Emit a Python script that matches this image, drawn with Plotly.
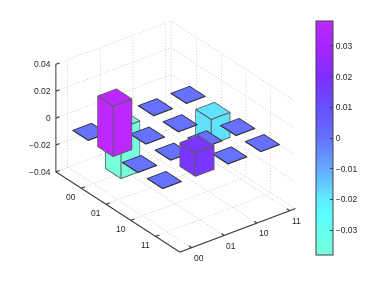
import plotly.graph_objects as go

x_labels = ["00", "01", "10", "11"]
y_labels = ["00", "01", "10", "11"]
# rows: x index, columns: y index
values = [
    [0.0, -0.0375, 0.0, 0.0],
    [0.0375, 0.0, 0.0, -0.0185],
    [0.0, 0.0, 0.0, 0.0],
    [0.0, 0.0175, 0.0, 0.0],
]
z_ticks = [-0.04, -0.02, 0, 0.02, 0.04]
z_tick_text = ["\u22120.04", "\u22120.02", "0", "0.02", "0.04"]
cbar_ticks = [-0.03, -0.02, -0.01, 0, 0.01, 0.02, 0.03]
cbar_text = ["\u22120.03", "\u22120.02", "\u22120.01", "0", "0.01", "0.02", "0.03"]
c_lim = 0.0381
colorscale = [
    [0.0, "rgb(120,255,220)"],
    [0.106, "rgb(100,255,240)"],
    [0.172, "rgb(90,255,255)"],
    [0.2375, "rgb(95,235,255)"],
    [0.369, "rgb(100,170,255)"],
    [0.5, "rgb(102,112,255)"],
    [0.631, "rgb(102,80,255)"],
    [0.762, "rgb(128,45,255)"],
    [0.893, "rgb(165,38,255)"],
    [1.0, "rgb(190,40,255)"],
]

X0, X1 = -1.02, 3.98
Y0, Y1 = -0.216, 3.31
Z0, Z1 = -0.04, 0.04
PX, PY, PZ = 0.2, 0.2, 0.002   # room round the drawn box, so nothing is clipped by the scene
DX, DY = 0.31, 0.285
OFF = 0.03                     # bars sit slightly off the tick positions
x_ticks = [0, 1, 2, 3]
y_ticks = [0.144, 1.144, 2.144, 3.144]
TEXT = "#262626"
FONT = "Liberation Sans"
SCALE = 1.0624 * 1.0618
HW, HZ = 0.009, 0.00028   # half section of an edge beam, about one pixel across

vx, vy, vz, I, J, K, inten = [], [], [], [], [], [], []


def quad(a, b, c, d, v):
    n = len(vx)
    for p in (a, b, c, d):
        vx.append(p[0]); vy.append(p[1]); vz.append(p[2]); inten.append(v)
    I.extend([n, n]); J.extend([n + 1, n + 2]); K.extend([n + 2, n + 3])


class Beams:
    """Thin boxes along axis-aligned edges, so edges sit cleanly on the bar faces."""

    def __init__(self):
        self.x, self.y, self.z, self.i, self.j, self.k = [], [], [], [], [], []

    def add(self, a, b):
        n = len(self.x)
        lo = (min(a[0], b[0]) - HW, min(a[1], b[1]) - HW, min(a[2], b[2]) - HZ)
        hi = (max(a[0], b[0]) + HW, max(a[1], b[1]) + HW, max(a[2], b[2]) + HZ)
        for zz in (lo[2], hi[2]):
            for xx, yy in ((lo[0], lo[1]), (hi[0], lo[1]), (hi[0], hi[1]), (lo[0], hi[1])):
                self.x.append(xx); self.y.append(yy); self.z.append(zz)
        faces = [(0, 1, 2, 3), (4, 5, 6, 7), (0, 1, 5, 4), (1, 2, 6, 5), (2, 3, 7, 6), (3, 0, 4, 7)]
        for f in faces:
            self.i.extend([n + f[0], n + f[0]])
            self.j.extend([n + f[1], n + f[2]])
            self.k.extend([n + f[2], n + f[3]])

    def trace(self, color):
        return go.Mesh3d(x=self.x, y=self.y, z=self.z, i=self.i, j=self.j, k=self.k, color=color,
                         flatshading=True, hoverinfo="skip",
                         lighting=dict(ambient=1, diffuse=0, specular=0, roughness=1, fresnel=0))


bar_edges, tile_edges, axis_lines = Beams(), Beams(), Beams()

for i, row in enumerate(values):
    for j, v in enumerate(row):
        x0, x1, y0, y1 = i + OFF - DX, i + OFF + DX, j + OFF - DY, j + OFF + DY
        z0, z1 = min(0, v), max(0, v)
        c = [(x0, y0), (x1, y0), (x1, y1), (x0, y1)]
        quad(*[(p[0], p[1], z1) for p in c], v)
        if v == 0:
            for k in range(4):
                tile_edges.add((*c[k], z1), (*c[(k + 1) % 4], z1))
            continue
        quad(*[(p[0], p[1], z0) for p in c], v)
        for k in range(4):
            a, b = c[k], c[(k + 1) % 4]
            quad((*a, z0), (*b, z0), (*b, z1), (*a, z1), v)
            bar_edges.add((*a, z1), (*b, z1))
            bar_edges.add((*a, z0), (*b, z0))
            bar_edges.add((*a, z0), (*a, z1))


def seg(bx, by, bz, a, b):
    bx.extend([a[0], b[0], None]); by.extend([a[1], b[1], None]); bz.extend([a[2], b[2], None])


def dotted(bx, by, bz, a, b, n):
    # n short dashes along one grid line
    for q in range(n):
        f0, f1 = q / n, (q + 0.4) / n
        seg(bx, by, bz,
            tuple(a[m] + (b[m] - a[m]) * f0 for m in range(3)),
            tuple(a[m] + (b[m] - a[m]) * f1 for m in range(3)))


# dotted grids on the floor and the two back walls
NX, NY, NZ = 50, 41, 36
gx, gy, gz = [], [], []
for xt in x_ticks:
    dotted(gx, gy, gz, (xt, Y0, Z0), (xt, Y1, Z0), NY)
    dotted(gx, gy, gz, (xt, Y1, Z0), (xt, Y1, Z1), NZ)
for yt in y_ticks:
    dotted(gx, gy, gz, (X0, yt, Z0), (X1, yt, Z0), NX)
    dotted(gx, gy, gz, (X0, yt, Z0), (X0, yt, Z1), NZ)
for zt in z_ticks:
    dotted(gx, gy, gz, (X0, Y0, zt), (X0, Y1, zt), NY)
    dotted(gx, gy, gz, (X0, Y1, zt), (X1, Y1, zt), NX)
dotted(gx, gy, gz, (X1, Y0, Z0), (X1, Y1, Z0), NY)
dotted(gx, gy, gz, (X0, Y1, Z0), (X0, Y1, Z1), NZ)

# solid axes and tick marks
axis_lines.add((X0, Y0, Z0), (X0, Y0, Z1))
axis_lines.add((X0, Y0, Z0), (X1, Y0, Z0))
axis_lines.add((X1, Y0, Z0), (X1, Y1, Z0))
for xt in x_ticks:
    axis_lines.add((xt, Y0, Z0), (xt, Y0 + 0.1, Z0))
for yt in y_ticks:
    axis_lines.add((X1, yt, Z0), (X1 - 0.1, yt, Z0))
for zt in z_ticks:
    axis_lines.add((X0, Y0, zt), (X0, Y0 + 0.1, zt))

fig = go.Figure()
fig.add_trace(go.Scatter3d(x=gx, y=gy, z=gz, mode="lines", hoverinfo="skip", showlegend=False,
                           line=dict(color="#b0b0b0", width=1)))
fig.add_trace(axis_lines.trace("#383838"))
fig.add_trace(go.Mesh3d(
    x=vx, y=vy, z=vz, i=I, j=J, k=K, intensity=inten, intensitymode="vertex",
    colorscale=colorscale, cmin=-c_lim, cmax=c_lim, flatshading=True,
    lighting=dict(ambient=1, diffuse=0, specular=0, roughness=1, fresnel=0),
    hoverinfo="skip",
    colorbar=dict(
        x=308 / 382, xanchor="left", xpad=0, y=1 - 130 / 287, yanchor="middle", ypad=0,
        lenmode="pixels", len=233.5, thickness=17, thicknessmode="pixels",
        outlinecolor="#404040", outlinewidth=1,
        tickmode="array", tickvals=cbar_ticks, ticktext=cbar_text,
        ticks="inside", ticklen=3, tickcolor="#404040", tickwidth=1,
        tickfont=dict(family=FONT, size=8.5, color=TEXT),
    ),
))
fig.add_trace(bar_edges.trace("#5a5a5a"))
fig.add_trace(tile_edges.trace("#2a2a2a"))

ann = []
for t, s in zip(z_ticks, z_tick_text):
    ann.append(dict(x=X0, y=Y0, z=t, text=s, showarrow=False, xanchor="right", xshift=-3,
                    font=dict(family=FONT, size=8.5, color=TEXT)))
for t, s in zip(x_ticks, x_labels):
    ann.append(dict(x=t, y=Y0, z=Z0, text=s, showarrow=False, xshift=-10, yshift=-8.5,
                    font=dict(family=FONT, size=8.5, color=TEXT)))
for t, s in zip(y_ticks, y_labels):
    ann.append(dict(x=X1, y=t, z=Z0, text=s, showarrow=False, xshift=7.5, yshift=-10,
                    font=dict(family=FONT, size=8.5, color=TEXT)))

hidden = dict(visible=False, showgrid=False, zeroline=False, showspikes=False)
R = 2.0
fig.update_layout(
    width=382, height=287, margin=dict(l=0, r=0, t=0, b=0),
    paper_bgcolor="white", showlegend=False,
    scene=dict(
        domain=dict(x=[0, 0.8757], y=[0.1032, 1]),
        xaxis=dict(range=[X0 - PX, X1 + PX], **hidden),
        yaxis=dict(range=[Y0 - PY, Y1 + PY], **hidden),
        zaxis=dict(range=[Z0 - PZ, Z1 + PZ], **hidden),
        aspectmode="manual",
        aspectratio=dict(
            x=1.41 * SCALE * (X1 - X0 + 2 * PX) / (X1 - X0),
            y=1 * SCALE * (Y1 - Y0 + 2 * PY) / (Y1 - Y0),
            z=0.853 * SCALE * (Z1 - Z0 + 2 * PZ) / (Z1 - Z0),
        ),
        camera=dict(
            projection=dict(type="orthographic"),
            eye=dict(x=0.691 * R, y=-0.527 * R, z=0.494 * R),
            up=dict(x=0, y=0, z=1),
            center=dict(x=0, y=0, z=0),
        ),
        annotations=ann,
    ),
)
fig.write_html("out.html")
